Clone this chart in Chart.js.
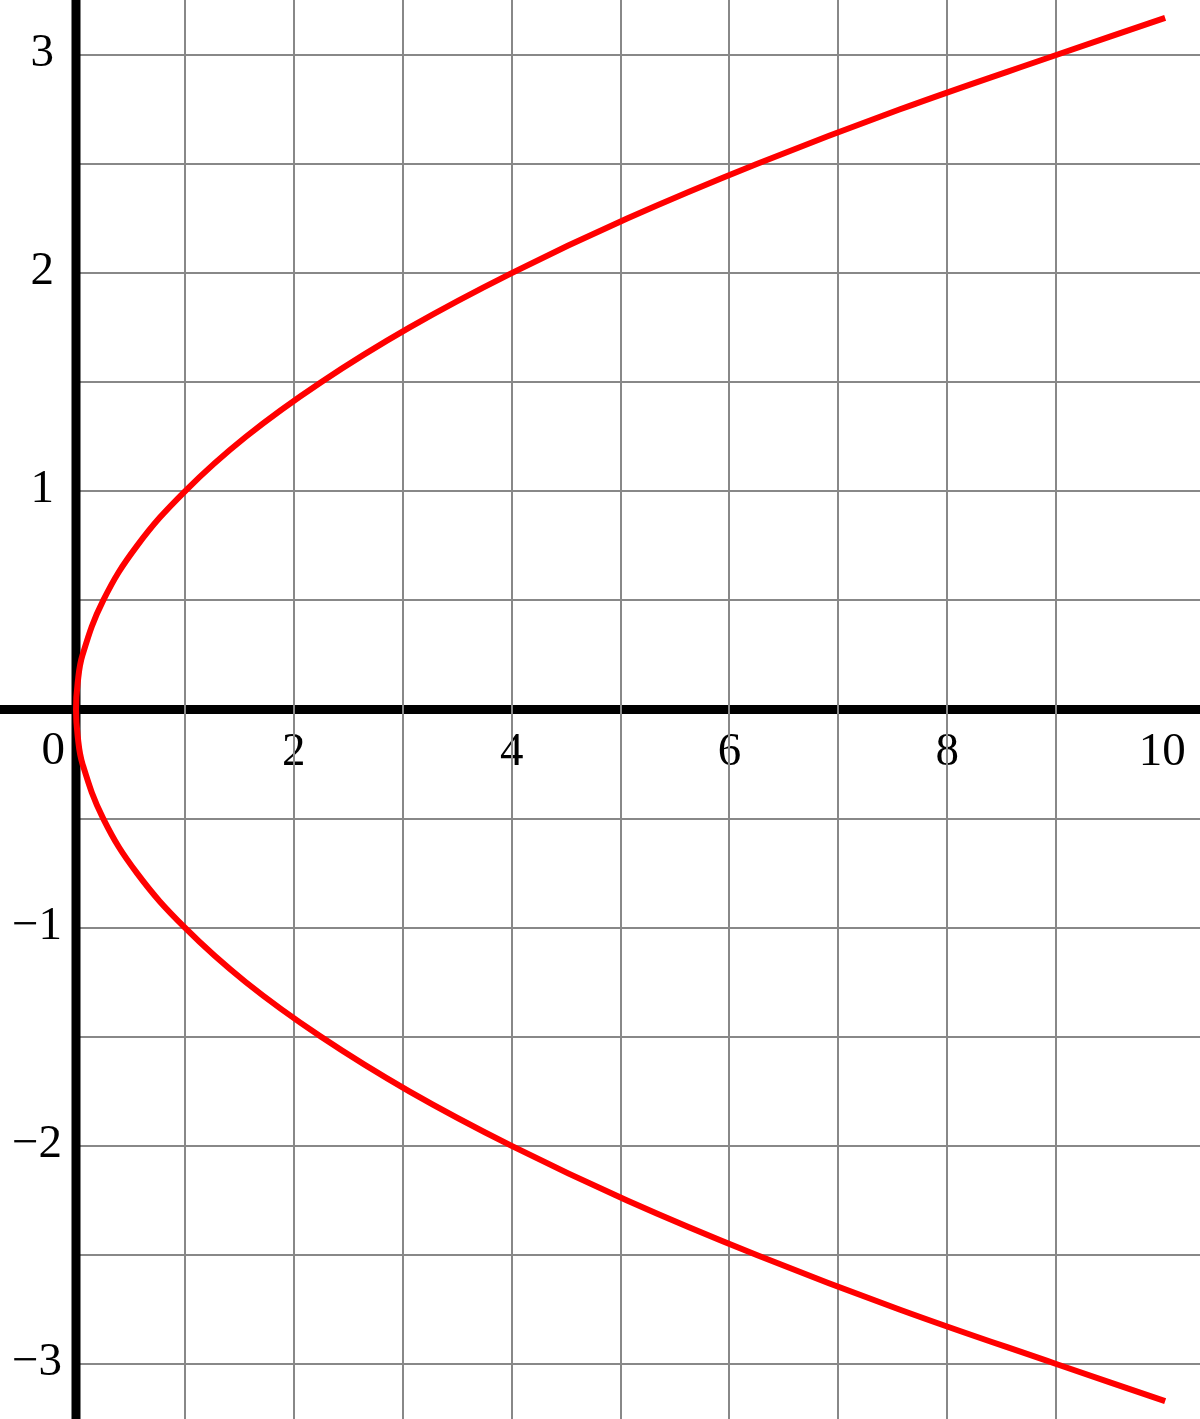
<!DOCTYPE html>
<html>
<head>
<meta charset="utf-8">
<title>x = y²</title>
<script src="https://cdn.jsdelivr.net/npm/chart.js@4.4.1/dist/chart.umd.min.js"></script>
<style>
  html, body { margin: 0; padding: 0; background: #fff; }
  canvas { display: block; }
</style>
</head>
<body>
<canvas id="parabolaChart" width="1200" height="1419"></canvas>
<script>
// points, bottom branch to top branch
const curveY = [-3.17, -3.0, -2.75, -2.5, -2.25, -2.0, -1.75, -1.5, -1.25, -1.0, -0.75, -0.5, -0.25, -0.12, 0,
                0.12, 0.25, 0.5, 0.75, 1.0, 1.25, 1.5, 1.75, 2.0, 2.25, 2.5, 2.75, 3.0, 3.17];
const curveX = [10, 9, 7.56, 6.25, 5.06, 4, 3.06, 2.25, 1.56, 1, 0.56, 0.25, 0.06, 0.015, 0,
                0.015, 0.06, 0.25, 0.56, 1, 1.56, 2.25, 3.06, 4, 5.06, 6.25, 7.56, 9, 10];

// tick labels written beside the axes
const xTickLabels = [2, 4, 6, 8, 10];
const yTickLabels = [-3, -2, -1, 1, 2, 3];

// visible window of the plot
const xRange = [0, 10.32];
const yRange = [-3.252, 3.252];

const gridGray = '#888888';
const labelFont = '47px "Liberation Serif", "DejaVu Serif", serif';

// keep only the round ticks (drops the min/max ticks Chart.js adds at the edges)
function keepStep(step) {
    return (scale) => {
        scale.ticks = scale.ticks.filter(t => Math.abs(t.value / step - Math.round(t.value / step)) < 1e-6);
    };
}

const axesPlugin = {
    id: 'axesAndLabels',
    // labels and the horizontal axis go under the grey grid
    beforeDraw(chart) {
        const ctx = chart.ctx;
        const xScale = chart.scales.x;
        const yScale = chart.scales.y;
        const x0 = xScale.getPixelForValue(0);
        const y0 = yScale.getPixelForValue(0);

        ctx.save();
        ctx.font = labelFont;
        ctx.fillStyle = '#000';
        ctx.textBaseline = 'alphabetic';

        ctx.textAlign = 'center';
        xTickLabels.forEach(v => {
            ctx.fillText(String(v), xScale.getPixelForValue(v) - (v >= 10 ? 3 : 0), y0 + 55);
        });

        ctx.textAlign = 'right';
        ctx.fillText('0', x0 - 11, y0 + 54);
        yTickLabels.forEach(v => {
            const text = v < 0 ? '\u2212' + Math.abs(v) : String(v);
            ctx.fillText(text, v < 0 ? x0 - 14 : x0 - 22, yScale.getPixelForValue(v) + 11);
        });

        ctx.strokeStyle = '#000';
        ctx.lineWidth = 9;
        ctx.beginPath();
        ctx.moveTo(0, y0);
        ctx.lineTo(chart.width, y0);
        ctx.stroke();
        ctx.restore();
    },
    // vertical axis sits over the grid but under the curve
    beforeDatasetsDraw(chart) {
        const ctx = chart.ctx;
        const x0 = chart.scales.x.getPixelForValue(0);
        ctx.save();
        ctx.strokeStyle = '#000';
        ctx.lineWidth = 9;
        ctx.beginPath();
        ctx.moveTo(x0, 0);
        ctx.lineTo(x0, chart.height);
        ctx.stroke();
        ctx.restore();
    }
};

const points = curveX.map((x, i) => ({ x: x, y: curveY[i] }));

const chart = new Chart(document.getElementById('parabolaChart'), {
    type: 'scatter',
    data: {
        datasets: [
            {
                data: points,
                showLine: true,
                borderColor: '#ff0000',
                borderWidth: 6,
                pointRadius: 0,
                tension: 0.4,
                fill: false,
                clip: false
            }
        ]
    },
    options: {
        responsive: false,
        devicePixelRatio: 1,
        animation: false,
        layout: { padding: { left: 76, right: 0, top: 0, bottom: 0 } },
        plugins: {
            legend: { display: false },
            tooltip: { enabled: false }
        },
        scales: {
            x: {
                type: 'linear',
                min: xRange[0],
                max: xRange[1],
                ticks: { display: false, stepSize: 1 },
                afterBuildTicks: keepStep(1),
                grid: { color: gridGray, lineWidth: 2, drawTicks: false },
                border: { display: false }
            },
            y: {
                type: 'linear',
                min: yRange[0],
                max: yRange[1],
                ticks: { display: false, stepSize: 0.5 },
                afterBuildTicks: keepStep(0.5),
                grid: {
                    color: (c) => (c.tick && c.tick.value === 0 ? 'rgba(0,0,0,0)' : gridGray),
                    lineWidth: 2,
                    drawTicks: false
                },
                border: { display: false }
            }
        }
    },
    plugins: [axesPlugin]
});
</script>
</body>
</html>
